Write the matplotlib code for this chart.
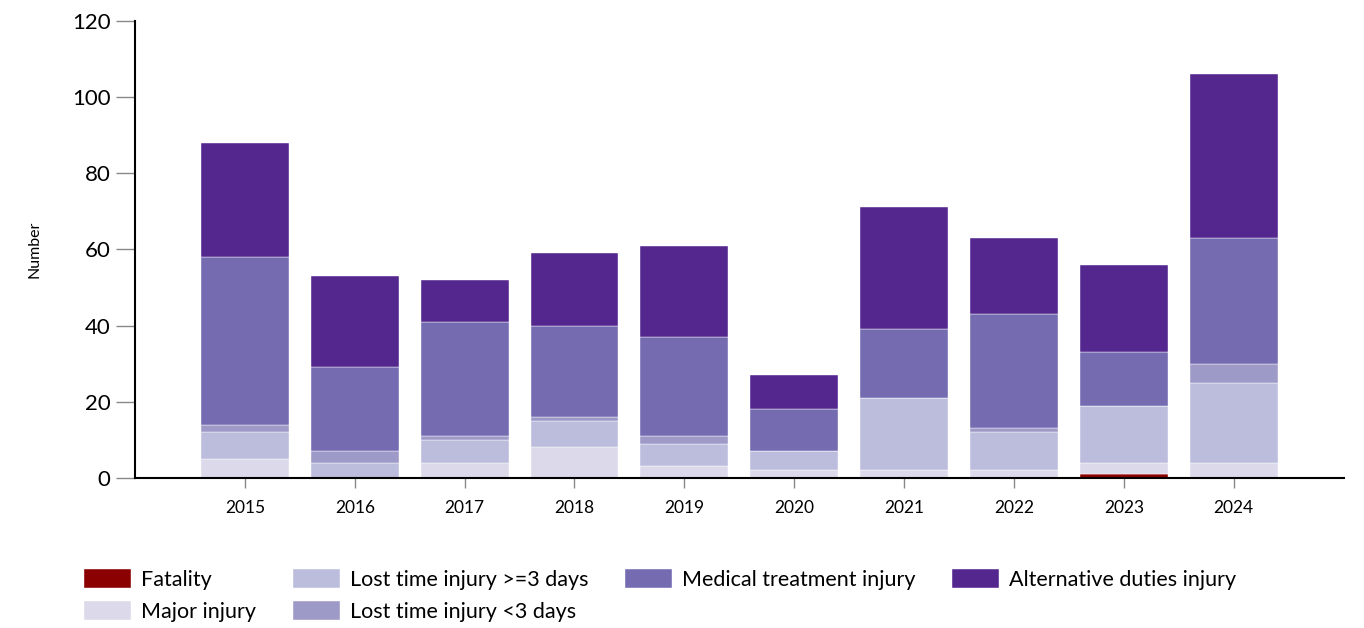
import numpy as np
import matplotlib.pyplot as plt

years = ['2015', '2016', '2017', '2018', '2019', '2020', '2021', '2022', '2023', '2024']

# counts per category, stacked bottom to top
fatality = [0, 0, 0, 0, 0, 0, 0, 0, 1, 0]
major = [5, 0, 4, 8, 3, 2, 2, 2, 3, 4]
lti_3plus = [7, 4, 6, 7, 6, 5, 19, 10, 15, 21]
lti_under3 = [2, 3, 1, 1, 2, 0, 0, 1, 0, 5]
medical = [44, 22, 30, 24, 26, 11, 18, 30, 14, 33]
alt_duties = [30, 24, 11, 19, 24, 9, 32, 20, 23, 43]

labels = ['Fatality', 'Major injury', 'Lost time injury >=3 days',
          'Lost time injury <3 days', 'Medical treatment injury', 'Alternative duties injury']
colors = ['#8B0000', '#DCDAEA', '#BCBDDD', '#9E9AC8', '#756BB1', '#54278F']

plt.rcParams['font.family'] = ['Lato', 'DejaVu Sans']

fig = plt.figure(figsize=(13.64, 6.28), dpi=100)
ax = fig.add_axes([0.099, 0.239, 0.886, 0.728])

x = np.arange(len(years))
bottom = np.zeros(len(years))
series = [fatality, major, lti_3plus, lti_under3, medical, alt_duties]
for vals, lab, col in zip(series, labels, colors):
    ax.bar(x, vals, 0.8, bottom=bottom, color=col, label=lab, edgecolor='white', linewidth=0.3)
    bottom += np.array(vals)

ax.set_xlim(-1, 10)
ax.set_ylim(0, 120)
ax.set_yticks(range(0, 121, 20))
ax.set_xticks(x)
ax.set_xticklabels(years, fontsize=12.5)
ax.tick_params(axis='y', labelsize=16, color='#888888', length=14, width=1)
ax.tick_params(axis='x', color='#888888', length=7, width=1, pad=9)
for s in ['top', 'right']:
    ax.spines[s].set_visible(False)
ax.spines['left'].set_linewidth(1.5)
ax.spines['bottom'].set_linewidth(1.5)
ax.set_ylabel('Number', fontsize=11.5, labelpad=22)

fig.legend(loc='upper left', bbox_to_anchor=(0.0616, 0.094), ncol=4, frameon=False,
           fontsize=15.5, handlelength=2.2, handleheight=1.0, handletextpad=0.45,
           columnspacing=1.7, labelspacing=0.5, borderpad=0, borderaxespad=0)

fig.savefig('out.png', dpi=100)
